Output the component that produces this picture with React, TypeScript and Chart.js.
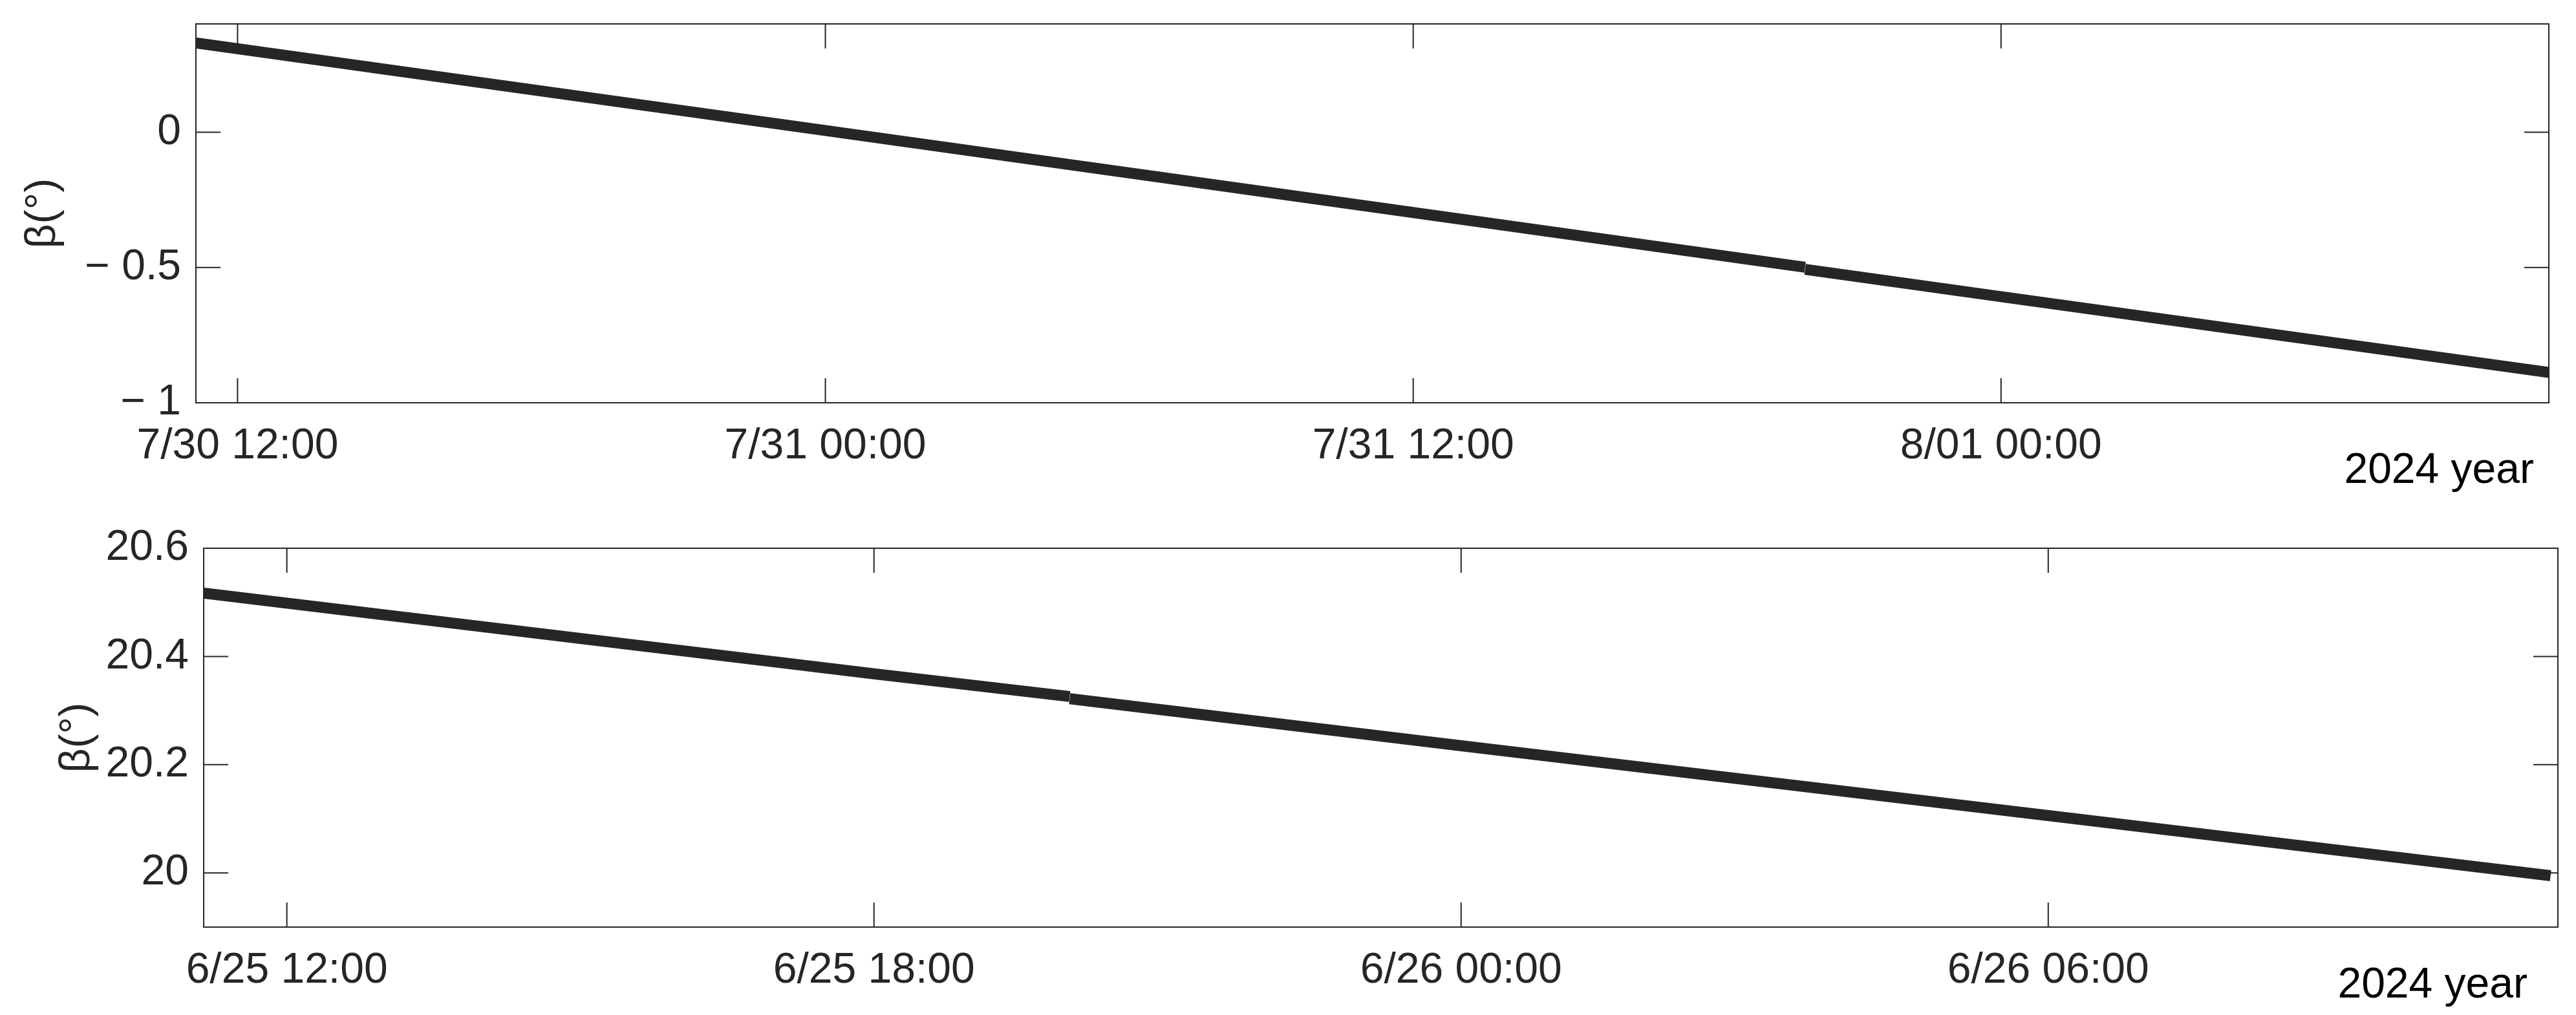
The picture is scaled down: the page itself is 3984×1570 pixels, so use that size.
import React, { useEffect, useRef } from "react";
import { Chart, registerables } from "chart.js";

Chart.register(...registerables);

const FONT = "'Liberation Sans', Arial, sans-serif";
const INK = "#262626";

// ---------- Top panel data ----------
const topSegATimes = ["2024-07-30T11:09", "2024-07-31T00:00", "2024-07-31T12:00", "2024-07-31T20:00"];
const topSegAValues = [0.33, 0.006, -0.297, -0.499];
const topSegBTimes = ["2024-07-31T20:00", "2024-08-01T00:00", "2024-08-01T11:11"];
const topSegBValues = [-0.507, -0.608, -0.888];
const topXTickTimes = ["2024-07-30T12:00", "2024-07-31T00:00", "2024-07-31T12:00", "2024-08-01T00:00"];
const topXTickLabels = ["7/30 12:00", "7/31 00:00", "7/31 12:00", "8/01 00:00"];
const topXRange = ["2024-07-30T11:09", "2024-08-01T11:11"];
const topYTicks = [-1, -0.5, 0];
const topYTickLabels = ["\u2212 1", "\u2212 0.5", "0"];
const topYRange = [-1, 0.4];

// ---------- Bottom panel data ----------
const botSegATimes = ["2024-06-25T11:09", "2024-06-25T18:00", "2024-06-25T20:00"];
const botSegAValues = [20.517, 20.368, 20.326];
const botSegBTimes = ["2024-06-25T20:00", "2024-06-26T00:00", "2024-06-26T06:00", "2024-06-26T11:08"];
const botSegBValues = [20.322, 20.235, 20.106, 19.995];
const botXTickTimes = ["2024-06-25T12:00", "2024-06-25T18:00", "2024-06-26T00:00", "2024-06-26T06:00"];
const botXTickLabels = ["6/25 12:00", "6/25 18:00", "6/26 00:00", "6/26 06:00"];
const botXRange = ["2024-06-25T11:09", "2024-06-26T11:12:30"];
const botYTicks = [20, 20.2, 20.4, 20.6];
const botYTickLabels = ["20", "20.2", "20.4", "20.6"];
const botYRange = [19.9, 20.6];

const yTitle = "\u03b2(\u00b0)";
const yearLabel = "2024 year";

const hours = (s: string) => Date.parse(s + "Z") / 3.6e6;

const boxPlugin = {
  id: "matlabBox",
  afterDraw(chart: any, _args: any, opts: any) {
    const { ctx, chartArea: a, scales } = chart;
    const L = 38;
    ctx.save();
    ctx.strokeStyle = INK;
    ctx.lineWidth = 2;
    ctx.beginPath();
    for (const tk of scales.x.ticks) {
      const px = scales.x.getPixelForValue(tk.value);
      ctx.moveTo(px, a.bottom);
      ctx.lineTo(px, a.bottom - L);
      ctx.moveTo(px, a.top);
      ctx.lineTo(px, a.top + L);
    }
    for (const tk of scales.y.ticks) {
      const py = scales.y.getPixelForValue(tk.value);
      ctx.moveTo(a.left, py);
      ctx.lineTo(a.left + L, py);
      ctx.moveTo(a.right, py);
      ctx.lineTo(a.right - L, py);
    }
    ctx.stroke();
    ctx.strokeRect(a.left, a.top, a.right - a.left, a.bottom - a.top);
    ctx.fillStyle = "#000";
    ctx.font = `66px ${FONT}`;
    ctx.textAlign = "right";
    ctx.textBaseline = "alphabetic";
    ctx.fillText(opts.text, a.right - opts.dx, a.bottom + opts.dy);
    ctx.restore();
  },
};

type PanelCfg = {
  segA: [string[], number[]];
  segB: [string[], number[]];
  xTickTimes: string[];
  xTickLabels: string[];
  xRange: string[];
  yTicks: number[];
  yTickLabels: string[];
  yRange: number[];
  padTop: number;
  padRight: number;
  yWidth: number;
  xHeight: number;
  titlePad: number;
  yearDx: number;
  yearDy: number;
};

const zeroPad = (scale: any) => {
  scale.paddingTop = 0;
  scale.paddingBottom = 0;
  scale.paddingLeft = 0;
  scale.paddingRight = 0;
};

function Panel({ cfg, top, height }: { cfg: PanelCfg; top: number; height: number }) {
  const ref = useRef<HTMLCanvasElement>(null);
  useEffect(() => {
    const mk = (seg: [string[], number[]]) =>
      seg[0].map((t, i) => ({ x: hours(t), y: seg[1][i] }));
    const lineStyle = {
      borderColor: INK,
      backgroundColor: INK,
      borderWidth: 17,
      pointRadius: 0,
      tension: 0,
      fill: false,
      borderCapStyle: "butt" as const,
      borderJoinStyle: "round" as const,
    };
    const chart = new Chart(ref.current!, {
      type: "line",
      data: {
        datasets: [
          { data: mk(cfg.segA), ...lineStyle },
          { data: mk(cfg.segB), ...lineStyle },
        ],
      },
      options: {
        responsive: false,
        animation: false,
        devicePixelRatio: 1,
        parsing: false,
        layout: { padding: { left: 0, top: cfg.padTop, right: cfg.padRight, bottom: 0 } },
        plugins: {
          legend: { display: false },
          tooltip: { enabled: false },
          matlabBox: { text: yearLabel, dx: cfg.yearDx, dy: cfg.yearDy },
        } as any,
        scales: {
          x: {
            type: "linear",
            min: hours(cfg.xRange[0]),
            max: hours(cfg.xRange[1]),
            grid: { display: false, drawTicks: false },
            border: { display: false },
            afterBuildTicks: (scale: any) => {
              scale.ticks = cfg.xTickTimes.map((t) => ({ value: hours(t) }));
            },
            afterFit: (scale: any) => {
              scale.height = cfg.xHeight;
              zeroPad(scale);
            },
            ticks: {
              autoSkip: false,
              maxRotation: 0,
              minRotation: 0,
              padding: 28,
              color: INK,
              font: { family: FONT, size: 66 },
              callback: (_v: any, i: number) => cfg.xTickLabels[i],
            },
          },
          y: {
            type: "linear",
            min: cfg.yRange[0],
            max: cfg.yRange[1],
            grid: { display: false, drawTicks: false },
            border: { display: false },
            afterBuildTicks: (scale: any) => {
              scale.ticks = cfg.yTicks.map((v) => ({ value: v }));
            },
            afterFit: (scale: any) => {
              scale.width = cfg.yWidth;
              zeroPad(scale);
            },
            ticks: {
              padding: 23,
              color: INK,
              font: { family: FONT, size: 66 },
              callback: (_v: any, i: number) => cfg.yTickLabels[i],
            },
            title: {
              display: true,
              text: yTitle,
              color: INK,
              font: { family: FONT, size: 66 },
              padding: { top: cfg.titlePad, bottom: 0 },
            },
          },
        },
      },
      plugins: [boxPlugin],
    });
    return () => chart.destroy();
  }, []);
  return (
    <div style={{ position: "absolute", left: 0, top, width: 3984, height }}>
      <canvas ref={ref} width={3984} height={height} style={{ width: 3984, height, display: "block" }} />
    </div>
  );
}

const topCfg: PanelCfg = {
  segA: [topSegATimes, topSegAValues],
  segB: [topSegBTimes, topSegBValues],
  xTickTimes: topXTickTimes,
  xTickLabels: topXTickLabels,
  xRange: topXRange,
  yTicks: topYTicks,
  yTickLabels: topYTickLabels,
  yRange: topYRange,
  padTop: 37,
  padRight: 42,
  yWidth: 303,
  xHeight: 162,
  titlePad: 27,
  yearDx: 23,
  yearDy: 124,
};

const botCfg: PanelCfg = {
  segA: [botSegATimes, botSegAValues],
  segB: [botSegBTimes, botSegBValues],
  xTickTimes: botXTickTimes,
  xTickLabels: botXTickLabels,
  xRange: botXRange,
  yTicks: botYTicks,
  yTickLabels: botYTickLabels,
  yRange: botYRange,
  padTop: 63,
  padRight: 28,
  yWidth: 315,
  xHeight: 136,
  titlePad: 80,
  yearDx: 47,
  yearDy: 109,
};

export default function App() {
  return (
    <div style={{ position: "absolute", left: 0, top: 0, width: 3984, height: 1570, background: "#fff" }}>
      <Panel cfg={topCfg} top={0} height={785} />
      <Panel cfg={botCfg} top={785} height={785} />
    </div>
  );
}
